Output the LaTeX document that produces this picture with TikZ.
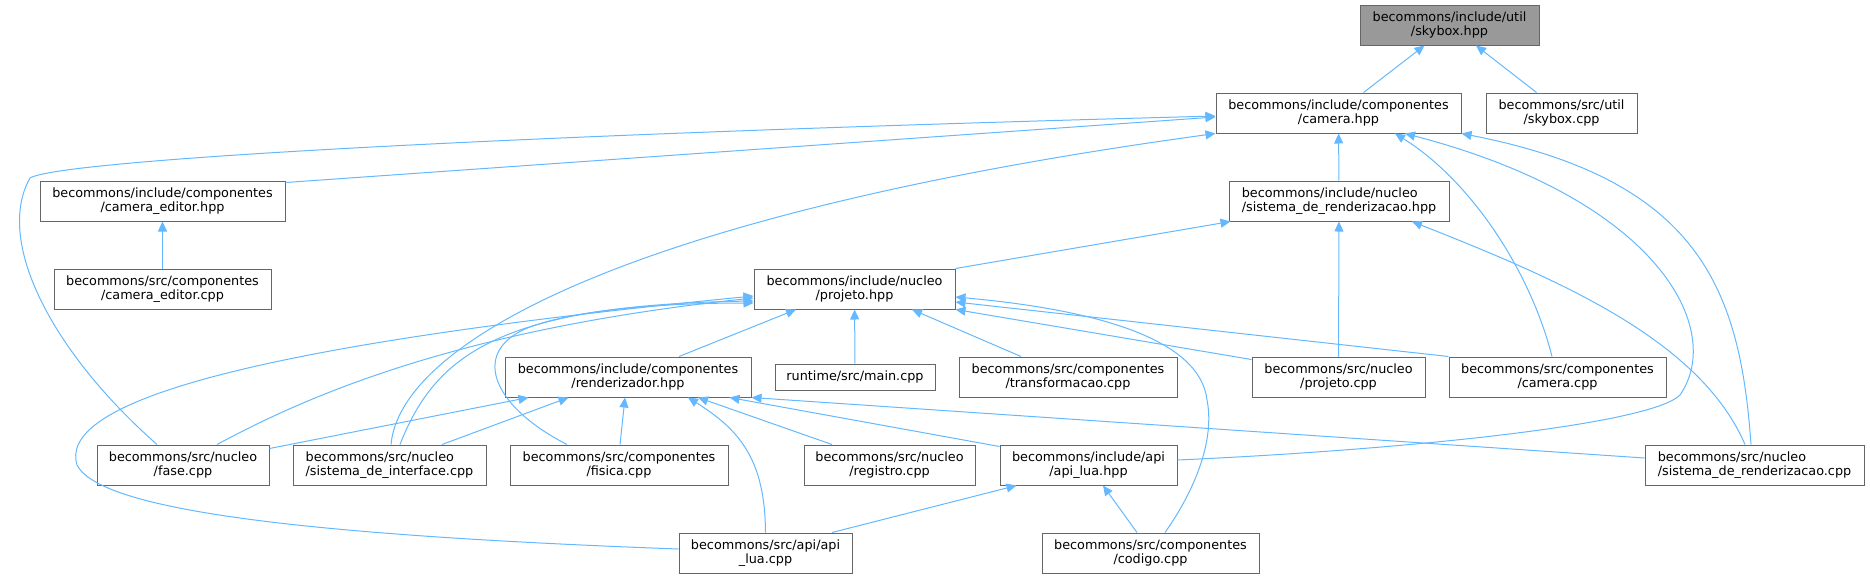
\documentclass[tikz,border=0pt]{standalone}
\usepackage{fontspec}
\setmainfont{DejaVu Sans}
\usetikzlibrary{arrows.meta}
\definecolor{depblue}{HTML}{63B8FF}
\definecolor{boxgray}{HTML}{666666}
\definecolor{rootgray}{HTML}{999999}

\begin{document}
\begin{tikzpicture}[x=1pt,y=-1pt,every node/.style={draw=boxgray,line width=1pt,align=center,inner sep=2pt,minimum height=40pt,font=\fontsize{12.8}{14.7}\selectfont},dep/.style={draw=depblue,line width=1pt,-{Triangle[length=10pt,width=9pt]}}]
      \useasboundingbox (0,0) rectangle (1870,579);
      \node[fill=rootgray,minimum width=179pt] (skyhpp) at (1449.5,25) {becommons/include/util\\/skybox.hpp};
      \node[minimum width=245pt] (camhpp) at (1338.5,113) {becommons/include/componentes\\/camera.hpp};
      \node[minimum width=151pt] (skycpp) at (1561.5,113) {becommons/src/util\\/skybox.cpp};
      \node[minimum width=245pt] (camedhpp) at (162.5,201) {becommons/include/componentes\\/camera\_editor.hpp};
      \node[minimum width=217pt] (camedcpp) at (162.5,289) {becommons/src/componentes\\/camera\_editor.cpp};
      \node[minimum width=220pt,align=left] (srhpp) at (1339,201) {becommons/include/nucleo\\/sistema\_de\_renderizacao.hpp};
      \node[minimum width=201pt] (projhpp) at (854.5,289) {becommons/include/nucleo\\/projeto.hpp};
      \node[minimum width=246pt] (rendhpp) at (628,377) {becommons/include/componentes\\/renderizador.hpp};
      \node[minimum width=160pt,minimum height=26pt] (maincpp) at (855,377) {runtime/src/main.cpp};
      \node[minimum width=218pt] (transfcpp) at (1068,377) {becommons/src/componentes\\/transformacao.cpp};
      \node[minimum width=173pt] (projcpp) at (1338.5,377) {becommons/src/nucleo\\/projeto.cpp};
      \node[minimum width=217pt] (camcpp) at (1557.5,377) {becommons/src/componentes\\/camera.cpp};
      \node[minimum width=172pt] (fasecpp) at (183,465) {becommons/src/nucleo\\/fase.cpp};
      \node[minimum width=193pt,align=left] (sicpp) at (389.5,465) {becommons/src/nucleo\\/sistema\_de\_interface.cpp};
      \node[minimum width=218pt] (fisicacpp) at (619,465) {becommons/src/componentes\\/fisica.cpp};
      \node[minimum width=171pt] (regcpp) at (889.5,465) {becommons/src/nucleo\\/registro.cpp};
      \node[minimum width=177pt] (apihpp) at (1088.5,465) {becommons/include/api\\/api\_lua.hpp};
      \node[minimum width=219pt,align=left] (srcpp) at (1754.5,465) {becommons/src/nucleo\\/sistema\_de\_renderizacao.cpp};
      \node[minimum width=173pt] (apicpp) at (765.5,553) {becommons/src/api/api\\\_lua.cpp};
      \node[minimum width=217pt] (codigocpp) at (1150.5,553) {becommons/src/componentes\\/codigo.cpp};
      \draw[dep] ([xshift=25pt]camhpp.north) -- ([xshift=-25pt]skyhpp.south);
      \draw[dep] ([xshift=-25pt]skycpp.north) -- ([xshift=26.5pt]skyhpp.south);
      \draw[dep] (camedcpp) -- (camedhpp);
      \draw[dep] ([yshift=-2pt]camedhpp.north east) -- ([yshift=-4pt]camhpp.west);
      \draw[dep] ([xshift=-26pt]fasecpp.north) .. controls (50,350) and (-5,240) .. (30,178) .. controls (60,160) and (500,135) .. ([yshift=-3pt]camhpp.west);
      \draw[dep] ([xshift=1.5pt]sicpp.north) .. controls (400,345) and (620,215) .. (camhpp.south west);
      \draw[dep] (srhpp) -- (camhpp);
      \draw[dep] ([xshift=-5.5pt]camcpp.north) .. controls (1530,270) and (1470,180) .. ([xshift=56.5pt]camhpp.south);
      \draw[dep] ([yshift=5pt]apihpp.east) .. controls (1400,450) and (1650,425) .. (1680,395) .. controls (1725,330) and (1660,200) .. ([xshift=66.5pt]camhpp.south);
      \draw[dep] ([xshift=-3.5pt]srcpp.north) .. controls (1740,290) and (1700,180) .. (camhpp.south east);
      \draw[dep] (projhpp.north east) -- ([xshift=2pt]srhpp.south west);
      \draw[dep] (projcpp) -- (srhpp);
      \draw[dep] ([xshift=-9.5pt]srcpp.north) .. controls (1700,340) and (1560,280) .. ([xshift=73pt]srhpp.south);
      \draw[dep] ([yshift=4pt]apicpp.west) .. controls (300,535) and (100,510) .. (77,465) .. controls (60,410) and (200,350) .. ([yshift=-7pt]projhpp.west);
      \draw[dep] ([xshift=34pt]fasecpp.north) .. controls (300,400) and (450,330) .. ([yshift=-9pt]projhpp.west);
      \draw[dep] ([xshift=10.5pt]sicpp.north) .. controls (435,355) and (500,305) .. ([yshift=-12pt]projhpp.west);
      \draw[dep] ([xshift=-52pt]fisicacpp.north) .. controls (490,405) and (470,350) .. (530,327) .. controls (590,305) and (700,303) .. ([yshift=-14pt]projhpp.west);
      \draw[dep] ([xshift=51pt]rendhpp.north) -- ([xshift=-58.5pt]projhpp.south);
      \draw[dep] (maincpp) -- (projhpp);
      \draw[dep] ([xshift=-47pt]transfcpp.north) -- ([xshift=57.5pt]projhpp.south);
      \draw[dep] ([xshift=14.5pt]codigocpp.north) .. controls (1195,490) and (1215,440) .. (1207,400) .. controls (1200,340) and (1100,310) .. ([yshift=-8pt]projhpp.east);
      \draw[dep] (camcpp.north west) -- ([yshift=-13pt]projhpp.east);
      \draw[dep] ([yshift=-3pt]projcpp.north west) -- (projhpp.south east);
      \draw[dep] ([yshift=-4pt]fasecpp.north east) -- ([xshift=24pt]rendhpp.south west);
      \draw[dep] ([xshift=52.5pt]sicpp.north) -- ([xshift=64pt]rendhpp.south west);
      \draw[dep] ([xshift=1pt]fisicacpp.north) -- ([xshift=-3pt]rendhpp.south);
      \draw[dep] (apicpp.north) .. controls (765,460) and (740,430) .. ([xshift=60pt]rendhpp.south);
      \draw[dep] ([xshift=-57.5pt]regcpp.north) -- ([xshift=70pt]rendhpp.south);
      \draw[dep] ([yshift=-2pt]apihpp.north west) -- ([xshift=-22pt]rendhpp.south east);
      \draw[dep] ([yshift=7pt]srcpp.west) -- (rendhpp.south east);
      \draw[dep] ([xshift=66.5pt]apicpp.north) -- ([xshift=17pt]apihpp.south west);
      \draw[dep] ([xshift=-13.5pt]codigocpp.north) -- ([xshift=14.5pt]apihpp.south);
    \end{tikzpicture}
\end{document}
